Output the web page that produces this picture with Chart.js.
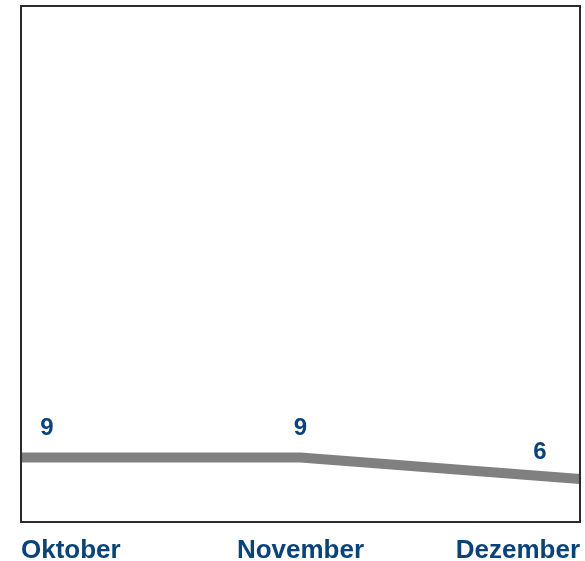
<!DOCTYPE html>
<html>
<head>
<meta charset="utf-8">
<script src="https://cdn.jsdelivr.net/npm/chart.js@4/dist/chart.umd.min.js"></script>
<style>
  html, body { margin: 0; padding: 0; background: #fff; }
  canvas { display: block; }
</style>
</head>
<body>
<canvas id="chart" width="585" height="561"></canvas>
<script>
const months = ['Oktober', 'November', 'Dezember'];
const counts = [9, 9, 6];

const blue = '#0a4379';

// box round the plot area
const frame = {
    id: 'frame',
    afterDraw(chart) {
        const { ctx, chartArea: a } = chart;
        ctx.save();
        ctx.strokeStyle = '#2b2b2b';
        ctx.lineWidth = 2;
        ctx.strokeRect(a.left, a.top, a.right - a.left, a.bottom - a.top);
        ctx.restore();
    }
};

// value labels above the line, first and last pulled inside
const valueLabels = {
    id: 'valueLabels',
    afterDatasetsDraw(chart) {
        const { ctx } = chart;
        const meta = chart.getDatasetMeta(0);
        const last = meta.data.length - 1;
        ctx.save();
        ctx.font = 'bold 24px "Liberation Sans", Arial, sans-serif';
        ctx.fillStyle = blue;
        ctx.textAlign = 'center';
        ctx.textBaseline = 'middle';
        meta.data.forEach((pt, i) => {
            let dx = 0;
            if (i === 0) dx = 26;
            if (i === last) dx = -40;
            const dy = i === last ? -27 : -29;
            ctx.fillText(String(counts[i]), pt.x + dx, pt.y + dy);
        });
        ctx.restore();
    }
};

new Chart(document.getElementById('chart'), {
    type: 'line',
    data: {
        labels: months,
        datasets: [{
            data: counts,
            borderColor: '#808080',
            borderWidth: 10,
            pointRadius: 0,
            tension: 0,
            fill: false
        }]
    },
    options: {
        responsive: false,
        animation: false,
        layout: { padding: { left: 21, right: 0, top: 6, bottom: 0 } },
        plugins: {
            legend: { display: false },
            tooltip: { enabled: false }
        },
        scales: {
            x: {
                offset: false,
                grid: { display: false },
                border: { display: false },
                ticks: {
                    align: 'inner',
                    maxRotation: 0,
                    padding: 5,
                    color: blue,
                    font: { family: '"Liberation Sans", Arial, sans-serif', size: 26, weight: 'bold' }
                },
                afterFit(scale) { scale.height = 39; }
            },
            y: {
                display: false,
                min: 0,
                max: 72
            }
        }
    },
    plugins: [frame, valueLabels]
});
</script>
</body>
</html>
